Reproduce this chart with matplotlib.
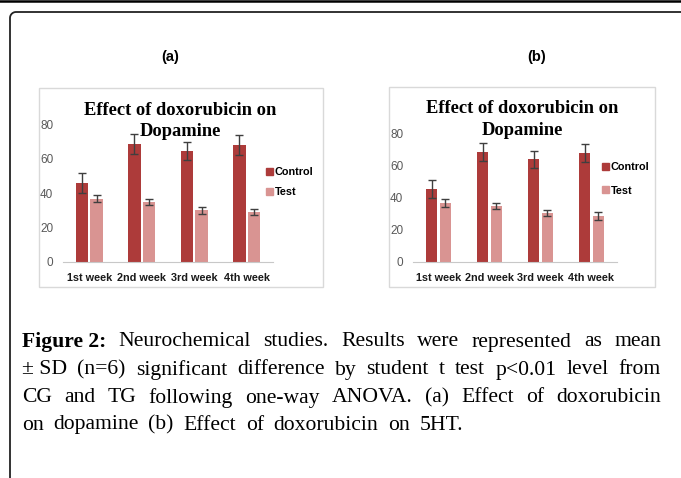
import numpy as np
import matplotlib
matplotlib.use("Agg")
import matplotlib.pyplot as plt
from matplotlib.patches import Rectangle, Patch
from matplotlib.lines import Line2D

W, H = 681, 478
fig = plt.figure(figsize=(W / 100, H / 100), dpi=100)
fig.patch.set_facecolor("white")

# ---------------- data ----------------
weeks = ["1st week", "2nd week", "3rd week", "4th week"]
series_names = ["Control", "Test"]

control_a = [45.8, 68.4, 64.3, 67.8]
control_a_err = [5.6, 5.6, 5.1, 5.6]
test_a = [36.7, 34.8, 30.1, 29.0]
test_a_err = [2.0, 2.0, 2.0, 1.6]

control_b = [45.3, 68.2, 63.7, 67.6]
control_b_err = [5.6, 5.4, 5.3, 5.4]
test_b = [36.6, 34.7, 30.2, 28.5]
test_b_err = [2.2, 1.7, 1.8, 2.2]

y_ticks = [0, 20, 40, 60, 80]
chart_title = "Effect of doxorubicin on\nDopamine"
panel_labels = ["(a)", "(b)"]

caption_lines = [
    [("Figure 2:", "bold"), ("Neurochemical", "normal"), ("studies.", "normal"), ("Results", "normal"),
     ("were", "normal"), ("represented", "normal"), ("as", "normal"), ("mean", "normal")],
    [("± SD", "normal"), ("(n=6)", "normal"), ("significant", "normal"), ("difference", "normal"),
     ("by", "normal"), ("student", "normal"), ("t", "normal"), ("test", "normal"),
     ("p<0.01", "normal"), ("level", "normal"), ("from", "normal")],
    [("CG", "normal"), ("and", "normal"), ("TG", "normal"), ("following", "normal"),
     ("one-way", "normal"), ("ANOVA.", "normal"), ("(a)", "normal"), ("Effect", "normal"),
     ("of", "normal"), ("doxorubicin", "normal")],
    [("on", "normal"), ("dopamine", "normal"), ("(b)", "normal"), ("Effect", "normal"),
     ("of", "normal"), ("doxorubicin", "normal"), ("on", "normal"), ("5HT.", "normal")],
]

C_CTRL = "#ad3b3a"
C_TEST = "#d99492"
ERR_C = "#3f3f3f"
CAP_FS = 15.6


def fx(x):
    return x / W


def fy(y):
    return 1 - y / H


# ---------------- outer frame ----------------
fig.add_artist(Line2D([0, 1], [fy(1), fy(1)], color="black", lw=1.8))
r = 6
ang = np.linspace(np.pi, np.pi / 2, 12)
cx, cy = 10 + r, 12 + r
xs = [10] + list(cx + r * np.cos(ang)) + [W + 5]
ys = [H + 5] + list(cy - r * np.sin(ang)) + [12]
fig.add_artist(Line2D([fx(v) for v in xs], [fy(v) for v in ys], color="#222222", lw=1.3))


def draw_panel(ax_px, box_px, ctrl, ctrl_err, test, test_err, width, off,
               title_xy, leg_anchor, leg_spacing, label, label_xy):
    bx0, by0, bx1, by1 = box_px
    fig.add_artist(Rectangle((fx(bx0), fy(by1)), fx(bx1 - bx0), (by1 - by0) / H,
                             transform=fig.transFigure, fill=False,
                             edgecolor="#d9d9d9", lw=1.0))
    l, r_, t, b = ax_px
    ax = fig.add_axes([fx(l), fy(b), fx(r_ - l), (b - t) / H])
    x = np.arange(len(weeks))
    ax.bar(x - off, ctrl, width, color=C_CTRL, yerr=ctrl_err,
           error_kw=dict(ecolor=ERR_C, elinewidth=1, capsize=3.2, capthick=1),
           label=series_names[0])
    ax.bar(x + off, test, width, color=C_TEST, yerr=test_err,
           error_kw=dict(ecolor=ERR_C, elinewidth=1, capsize=3.2, capthick=1),
           label=series_names[1])
    ax.set_xlim(-0.5, len(weeks) - 0.5)
    ax.set_ylim(0, 80)
    ax.set_yticks(y_ticks)
    ax.set_yticklabels([str(v) for v in y_ticks], fontsize=8.5, color="#595959",
                       family="Liberation Sans")
    ax.set_xticks(x)
    ax.set_xticklabels(weeks, fontsize=7.8, fontweight="bold", color="#1a1a1a",
                       family="Liberation Sans")
    for s in ["top", "right", "left"]:
        ax.spines[s].set_visible(False)
    ax.spines["bottom"].set_color("#c8c8c8")
    ax.tick_params(axis="both", length=0)
    ax.tick_params(axis="y", pad=7)
    ax.tick_params(axis="x", pad=8)
    ax.patch.set_alpha(0)
    fig.text(fx(title_xy[0]), fy(title_xy[1]), chart_title, ha="center", va="center",
             fontsize=13.3, fontweight="bold", family="Liberation Serif",
             linespacing=1.38)
    handles = [Patch(color=C_CTRL, label=series_names[0]),
               Patch(color=C_TEST, label=series_names[1])]
    fig.legend(handles=handles, loc="upper left",
               bbox_to_anchor=(fx(leg_anchor[0]), fy(leg_anchor[1])),
               frameon=False, handlelength=0.6, handleheight=0.6, handletextpad=0.2,
               labelspacing=leg_spacing, borderpad=0, borderaxespad=0,
               prop=dict(family="Liberation Sans", size=7.8, weight="bold"))
    fig.text(fx(label_xy[0]), fy(label_xy[1]), label, ha="center", va="center",
             fontsize=10.5, fontweight="bold", family="Liberation Sans")
    return ax


draw_panel((63, 273, 124, 262), (39, 88, 323, 287), control_a, control_a_err,
           test_a, test_a_err, 0.24, 0.14, (180, 121), (266, 167), 0.95,
           panel_labels[0], (170, 57))
draw_panel((413, 617, 133, 262), (389, 87, 655, 287), control_b, control_b_err,
           test_b, test_b_err, 0.22, 0.135, (522, 119.5), (602, 162), 1.25,
           panel_labels[1], (537, 57))

# ---------------- caption (justified) ----------------
renderer = fig.canvas.get_renderer()
cap_left, cap_right = 22, 661
line_y = [342, 370, 398, 425]
sp = fig.text(0, 0, "a a", fontsize=CAP_FS, family="Liberation Serif")
sp2 = fig.text(0, 0, "aa", fontsize=CAP_FS, family="Liberation Serif")
space_w = sp.get_window_extent(renderer).width - sp2.get_window_extent(renderer).width
sp.remove()
sp2.remove()
for i, words in enumerate(caption_lines):
    texts = []
    for w, weight in words:
        t = fig.text(0, fy(line_y[i]), w, fontsize=CAP_FS, fontweight=weight,
                     family="Liberation Serif", ha="left", va="center")
        texts.append(t)
    widths = [t.get_window_extent(renderer).width for t in texts]
    last = i == len(caption_lines) - 1
    if last:
        gap = space_w * 1.8
    else:
        gap = (cap_right - cap_left - sum(widths)) / (len(words) - 1)
    xpos = cap_left
    for t, wdt in zip(texts, widths):
        t.set_x(fx(xpos))
        xpos += wdt + gap

fig.savefig("out.png", dpi=100)
